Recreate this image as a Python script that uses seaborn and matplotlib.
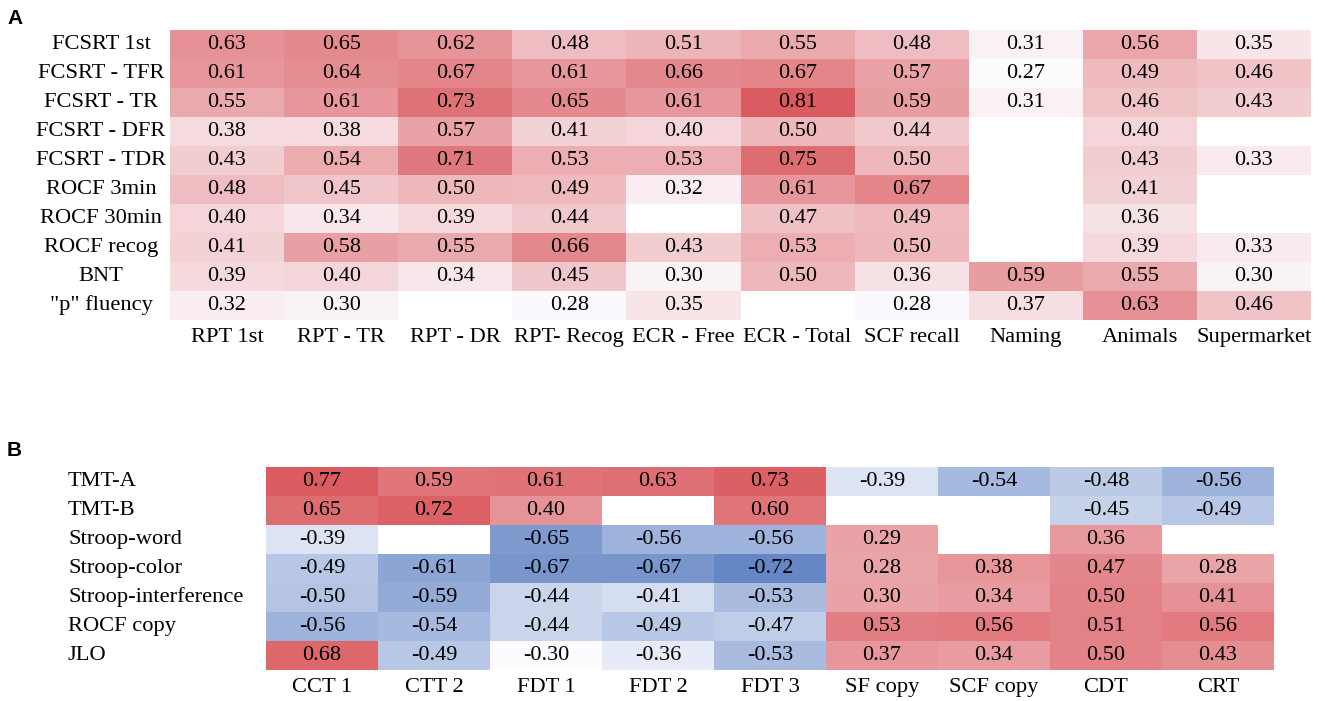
import numpy as np
import pandas as pd
import matplotlib
matplotlib.use("Agg")
import matplotlib.pyplot as plt
import seaborn as sns
from matplotlib.colors import LinearSegmentedColormap, Normalize, TwoSlopeNorm

nan = np.nan

# ---------- Panel A data ----------
a_rows = ["FCSRT 1st", "FCSRT - TFR", "FCSRT - TR", "FCSRT - DFR", "FCSRT - TDR",
          "ROCF 3min", "ROCF 30min", "ROCF recog", "BNT", '"p" fluency']
a_cols = ["RPT 1st", "RPT - TR", "RPT - DR", "RPT- Recog", "ECR - Free",
          "ECR - Total", "SCF recall", "Naming", "Animals", "Supermarket"]
a_fcsrt_1st = [0.63, 0.65, 0.62, 0.48, 0.51, 0.55, 0.48, 0.31, 0.56, 0.35]
a_fcsrt_tfr = [0.61, 0.64, 0.67, 0.61, 0.66, 0.67, 0.57, 0.27, 0.49, 0.46]
a_fcsrt_tr = [0.55, 0.61, 0.73, 0.65, 0.61, 0.81, 0.59, 0.31, 0.46, 0.43]
a_fcsrt_dfr = [0.38, 0.38, 0.57, 0.41, 0.40, 0.50, 0.44, nan, 0.40, nan]
a_fcsrt_tdr = [0.43, 0.54, 0.71, 0.53, 0.53, 0.75, 0.50, nan, 0.43, 0.33]
a_rocf_3min = [0.48, 0.45, 0.50, 0.49, 0.32, 0.61, 0.67, nan, 0.41, nan]
a_rocf_30min = [0.40, 0.34, 0.39, 0.44, nan, 0.47, 0.49, nan, 0.36, nan]
a_rocf_recog = [0.41, 0.58, 0.55, 0.66, 0.43, 0.53, 0.50, nan, 0.39, 0.33]
a_bnt = [0.39, 0.40, 0.34, 0.45, 0.30, 0.50, 0.36, 0.59, 0.55, 0.30]
a_p_fluency = [0.32, 0.30, nan, 0.28, 0.35, nan, 0.28, 0.37, 0.63, 0.46]

# ---------- Panel B data ----------
b_rows = ["TMT-A", "TMT-B", "Stroop-word", "Stroop-color", "Stroop-interference",
          "ROCF copy", "JLO"]
b_cols = ["CCT 1", "CTT 2", "FDT 1", "FDT 2", "FDT 3", "SF copy", "SCF copy", "CDT", "CRT"]
b_tmt_a = [0.77, 0.59, 0.61, 0.63, 0.73, -0.39, -0.54, -0.48, -0.56]
b_tmt_b = [0.65, 0.72, 0.40, nan, 0.60, nan, nan, -0.45, -0.49]
b_stroop_word = [-0.39, nan, -0.65, -0.56, -0.56, 0.29, nan, 0.36, nan]
b_stroop_color = [-0.49, -0.61, -0.67, -0.67, -0.72, 0.28, 0.38, 0.47, 0.28]
b_stroop_interf = [-0.50, -0.59, -0.44, -0.41, -0.53, 0.30, 0.34, 0.50, 0.41]
b_rocf_copy = [-0.56, -0.54, -0.44, -0.49, -0.47, 0.53, 0.56, 0.51, 0.56]
b_jlo = [0.68, -0.49, -0.30, -0.36, -0.53, 0.37, 0.34, 0.50, 0.43]

df_a = pd.DataFrame([a_fcsrt_1st, a_fcsrt_tfr, a_fcsrt_tr, a_fcsrt_dfr, a_fcsrt_tdr,
                     a_rocf_3min, a_rocf_30min, a_rocf_recog, a_bnt, a_p_fluency],
                    index=a_rows, columns=a_cols)
df_b = pd.DataFrame([b_tmt_a, b_tmt_b, b_stroop_word, b_stroop_color, b_stroop_interf,
                     b_rocf_copy, b_jlo], index=b_rows, columns=b_cols)

plt.rcParams["font.family"] = ["Liberation Serif", "DejaVu Serif"]

RED = "#da5b60"
WHITE = "#fcfcff"
BLUE = "#6687c5"

cmap_a = LinearSegmentedColormap.from_list("wr", [WHITE, RED])
cmap_b = LinearSegmentedColormap.from_list("bwr", [BLUE, WHITE, RED])

va = df_a.values
vb = df_b.values
norm_a = Normalize(vmin=np.nanmin(va), vmax=np.nanmax(va))
norm_b = TwoSlopeNorm(vmin=np.nanmin(vb), vcenter=np.nanmedian(vb), vmax=np.nanmax(vb))

W, H = 1325, 701
fig = plt.figure(figsize=(W / 100, H / 100), dpi=100)

def frac(l, t, r, b):
    return [l / W, 1 - b / H, (r - l) / W, (b - t) / H]

ax_a = fig.add_axes(frac(170, 30, 1311, 319.5))
ax_b = fig.add_axes(frac(266, 467, 1274, 670))

annot_kws = dict(fontsize=16, color="black")
lab_fs = 16.2

sns.heatmap(df_a, ax=ax_a, cmap=cmap_a, norm=norm_a, annot=True, fmt=".2f",
            annot_kws=annot_kws, cbar=False, linewidths=0)
sns.heatmap(df_b, ax=ax_b, cmap=cmap_b, norm=norm_b, annot=True, fmt=".2f",
            annot_kws=annot_kws, cbar=False, linewidths=0)

for ax in (ax_a, ax_b):
    ax.set_xlabel("")
    ax.set_ylabel("")
    ax.tick_params(length=0)
    for lbl in ax.get_xticklabels():
        lbl.set_rotation(0)
        lbl.set_fontsize(lab_fs)
    for lbl in ax.get_yticklabels():
        lbl.set_rotation(0)
        lbl.set_fontsize(lab_fs)

# Panel A: row labels centered at x ~ 101 px
ax_a.tick_params(axis="y", pad=(170 - 101) * 0.72)
for lbl in ax_a.get_yticklabels():
    lbl.set_ha("center")
ax_a.tick_params(axis="x", pad=6)

# Panel B: row labels left-aligned at x ~ 68 px
ax_b.tick_params(axis="y", pad=(266 - 68) * 0.72)
for lbl in ax_b.get_yticklabels():
    lbl.set_ha("left")
ax_b.tick_params(axis="x", pad=6)

fig.text(7 / W, 1 - 18 / H, "A", fontsize=15, fontweight="bold",
         family="Liberation Sans", va="center", ha="left")
fig.text(7 / W, 1 - 450 / H, "B", fontsize=15, fontweight="bold",
         family="Liberation Sans", va="center", ha="left")

fig.savefig("out.png", dpi=100, facecolor="white")
